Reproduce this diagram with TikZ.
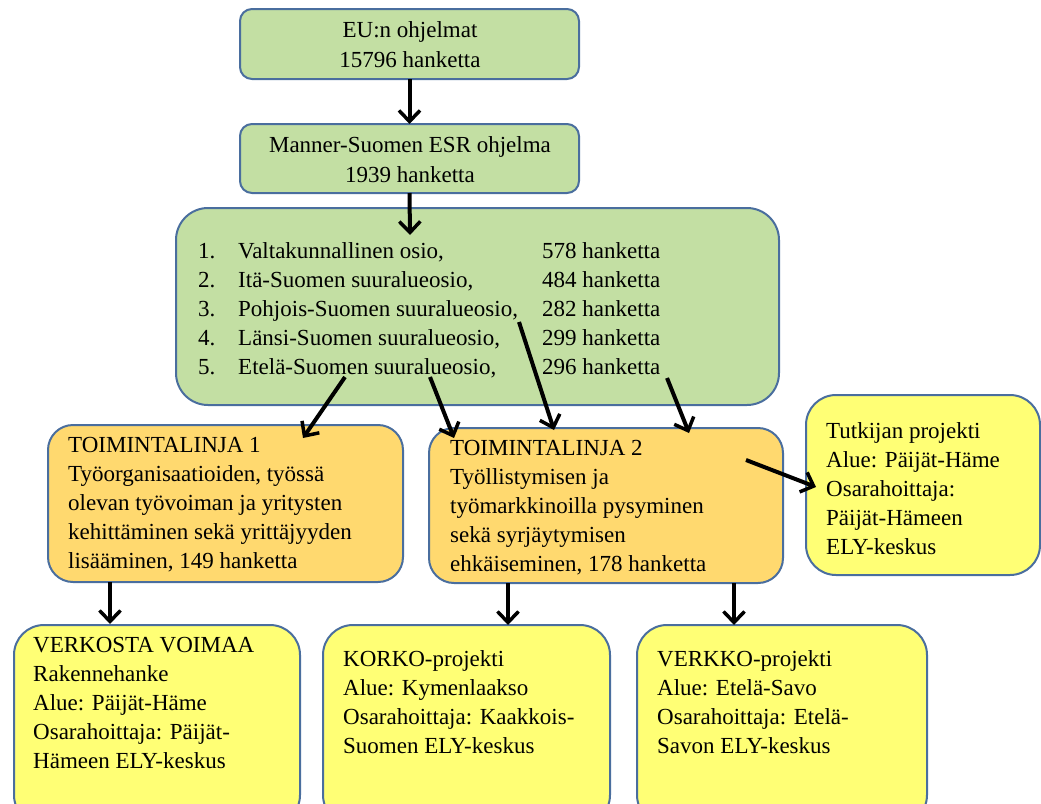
\documentclass[tikz,border=0pt]{standalone}
\usepackage{fontspec}
\setmainfont{Liberation Serif}
\usetikzlibrary{arrows.meta}
\definecolor{grn}{HTML}{C3DFA3}
\definecolor{org}{HTML}{FFD96F}
\definecolor{ylw}{HTML}{FFFF75}
\definecolor{bdr}{HTML}{4A6E9E}
\newcommand\fstrut{\rule{0pt}{18pt}}
\begin{document}
\begin{tikzpicture}[x=1pt,y=-1pt,
  box/.style={draw=bdr, line width=2pt, anchor=north west, inner sep=0pt, outer sep=0pt},
  txt/.style={anchor=north west, inner sep=0pt, align=left, font=\fontsize{23}{29}\selectfont},
  ctxt/.style={anchor=north, inner sep=0pt, align=center, font=\fontsize{23}{30}\selectfont},
  arr/.style={line width=4pt, -{Straight Barb[length=11pt,width=21pt,line width=3.5pt]}}]
\useasboundingbox (0,0) rectangle (1041,803);
\clip (0,0) rectangle (1041,803);
% boxes
\node[box, fill=grn, rounded corners=12pt, minimum width=339pt, minimum height=70pt] (eu) at (240,9) {};
\node[box, fill=grn, rounded corners=12pt, minimum width=339pt, minimum height=69pt] (man) at (240,124) {};
\node[box, fill=grn, rounded corners=32pt, minimum width=603pt, minimum height=197pt] (big) at (176,208) {};
\node[box, fill=org, rounded corners=25pt, minimum width=355pt, minimum height=157pt] (tl1) at (48,425) {};
\node[box, fill=org, rounded corners=25pt, minimum width=354pt, minimum height=155pt] (tl2) at (429,428) {};
\node[box, fill=ylw, rounded corners=30pt, minimum width=234pt, minimum height=180pt] (tut) at (806,395) {};
\node[box, fill=ylw, rounded corners=30pt, minimum width=286pt, minimum height=200pt] (vv) at (14,625) {};
\node[box, fill=ylw, rounded corners=30pt, minimum width=287pt, minimum height=200pt] (ko) at (323,625) {};
\node[box, fill=ylw, rounded corners=30pt, minimum width=290pt, minimum height=200pt] (ve) at (637,625) {};
% texts
\node[ctxt] (eut) at (410,19) {\fstrut EU:n ohjelmat\\15796 hanketta};
\node[ctxt] (mant) at (410,134) {\fstrut Manner-Suomen ESR ohjelma\\1939 hanketta};
\node[txt] (bigt) at (198,240) {%
\fstrut\makebox[40pt][l]{1.}\makebox[304pt][l]{Valtakunnallinen osio,}578 hanketta\\
\makebox[40pt][l]{2.}\makebox[304pt][l]{Itä-Suomen suuralueosio,}484 hanketta\\
\makebox[40pt][l]{3.}\makebox[304pt][l]{Pohjois-Suomen suuralueosio,}282 hanketta\\
\makebox[40pt][l]{4.}\makebox[304pt][l]{Länsi-Suomen suuralueosio,}299 hanketta\\
\makebox[40pt][l]{5.}\makebox[304pt][l]{Etelä-Suomen suuralueosio,}296 hanketta};
\node[txt] (tl1t) at (68,434) {\fstrut TOIMINTALINJA 1\\Työorganisaatioiden, työssä\\olevan työvoiman ja yritysten\\kehittäminen sekä yrittäjyyden\\lisääminen, 149 hanketta};
\node[txt] (tl2t) at (450,437) {\fstrut TOIMINTALINJA 2\\Työllistymisen ja\\työmarkkinoilla pysyminen\\sekä syrjäytymisen\\ehkäiseminen, 178 hanketta};
\node[txt] (tutt) at (826,420) {\fstrut Tutkijan projekti\\Alue: Päijät-Häme\\Osarahoittaja:\\Päijät-Hämeen\\ELY-keskus};
\node[txt] (vvt) at (33,634) {\fstrut VERKOSTA VOIMAA\\Rakennehanke\\Alue: Päijät-Häme\\Osarahoittaja: Päijät-\\Hämeen ELY-keskus};
\node[txt] (kot) at (343,648) {\fstrut KORKO-projekti\\Alue: Kymenlaakso\\Osarahoittaja: Kaakkois-\\Suomen ELY-keskus};
\node[txt] (vet) at (657,648) {\fstrut VERKKO-projekti\\Alue: Etelä-Savo\\Osarahoittaja: Etelä-\\Savon ELY-keskus};
% connector points
\coordinate (m0) at (410,235);
\coordinate (a0) at (345,377); \coordinate (a1) at (303,438);
\coordinate (b0) at (430,377); \coordinate (b1) at (454,438);
\coordinate (c0) at (519,322); \coordinate (c1) at (554,430);
\coordinate (d0) at (667,378); \coordinate (d1) at (689,433);
\coordinate (e0) at (746,460); \coordinate (e1) at (816,487);
\coordinate (f0) at (110,582); \coordinate (f1) at (110,624);
\coordinate (g0) at (508,583); \coordinate (g1) at (508,625);
\coordinate (h0) at (734,583); \coordinate (h1) at (734,625);
% arrows
\draw[arr] (eu.south) -- (man.north);
\draw[arr] (man.south) -- (m0);
\draw[arr] (a0) -- (a1);
\draw[arr] (b0) -- (b1);
\draw[arr] (c0) -- (c1);
\draw[arr] (d0) -- (d1);
\draw[arr] (e0) -- (e1);
\draw[arr] (f0) -- (f1);
\draw[arr] (g0) -- (g1);
\draw[arr] (h0) -- (h1);
\end{tikzpicture}
\end{document}
